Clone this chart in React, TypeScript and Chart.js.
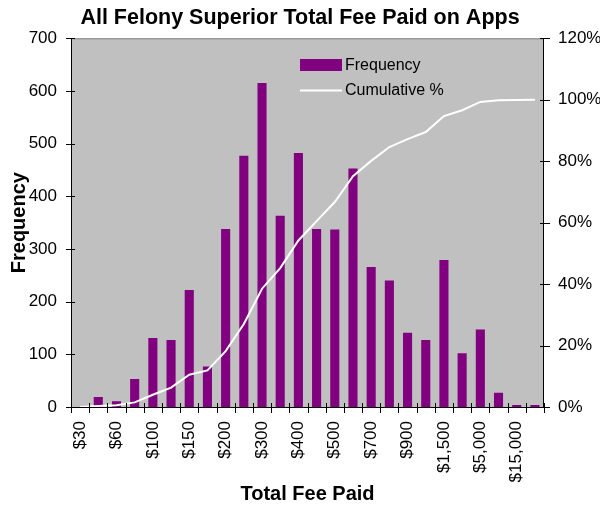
import React, { useEffect, useRef } from 'react';
import { Chart, registerables } from 'chart.js';

Chart.register(...registerables);

const categories = [
  '$30', '$50', '$60', '$75', '$100', '$125', '$150', '$175', '$200', '$250',
  '$300', '$350', '$400', '$450', '$500', '$600', '$700', '$800', '$900', '$1,000',
  '$1,500', '$2,500', '$5,000', '$10,000', '$15,000', 'More',
];

const frequency = [
  0, 19, 11, 53, 131, 127, 222, 77, 338, 477,
  615, 363, 482, 338, 337, 453, 266, 240, 141, 127,
  279, 102, 147, 27, 4, 4,
];

const cumulativePct = [
  0, 0.35, 0.56, 1.5, 4.0, 6.3, 10.5, 11.9, 18.2, 27.0,
  38.5, 45.2, 54.2, 60.5, 66.7, 75.1, 80.1, 84.6, 87.2, 89.5,
  94.7, 96.6, 99.3, 99.85, 99.9, 100,
];

const leftTickValues = [0, 100, 200, 300, 400, 500, 600, 700];
const rightTickValues = [0, 0.2, 0.4, 0.6, 0.8, 1.0, 1.2];

const titleText = 'All Felony Superior Total Fee Paid on Apps';
const xTitle = 'Total Fee Paid';
const yTitle = 'Frequency';
const legendLabels = ['Frequency', 'Cumulative %'];

const FONT = 'Arial, "Liberation Sans", sans-serif';
const PURPLE = '#800080';

const framePlugin = {
  id: 'excelFrame',
  beforeDatasetsDraw(chart: any) {
    const { ctx, chartArea } = chart;
    ctx.save();
    ctx.fillStyle = '#C0C0C0';
    ctx.fillRect(chartArea.left, chartArea.top, chartArea.right - chartArea.left, chartArea.bottom - chartArea.top);
    ctx.restore();
  },
  afterDatasetsDraw(chart: any) {
    const { ctx, chartArea } = chart;
    const { left, right, top, bottom } = chartArea;
    const y = chart.scales.y;
    const y1 = chart.scales.y1;
    ctx.save();
    ctx.strokeStyle = '#808080';
    ctx.lineWidth = 1;
    ctx.beginPath();
    ctx.moveTo(left, top + 0.5);
    ctx.lineTo(right, top + 0.5);
    ctx.stroke();
    ctx.strokeStyle = '#000';
    ctx.beginPath();
    ctx.moveTo(Math.round(left) + 0.5, top);
    ctx.lineTo(Math.round(left) + 0.5, bottom);
    ctx.moveTo(Math.round(right) - 0.5, top);
    ctx.lineTo(Math.round(right) - 0.5, bottom);
    ctx.moveTo(left - 5, Math.round(bottom) + 0.5);
    ctx.lineTo(right + 5, Math.round(bottom) + 0.5);
    leftTickValues.forEach((v) => {
      const py = Math.round(y.getPixelForValue(v)) + 0.5;
      ctx.moveTo(left - 5, py);
      ctx.lineTo(left + 4, py);
    });
    rightTickValues.forEach((v) => {
      const py = Math.round(y1.getPixelForValue(v)) + 0.5;
      ctx.moveTo(right - 4, py);
      ctx.lineTo(right + 6, py);
    });
    const n = categories.length;
    const step = (right - left) / n;
    for (let i = 0; i <= n; i++) {
      const px = Math.round(left + i * step) + 0.5;
      ctx.moveTo(px, bottom - 4);
      ctx.lineTo(px, bottom + 6);
    }
    ctx.stroke();

    ctx.fillStyle = PURPLE;
    ctx.fillRect(300, 59, 42, 12);
    ctx.strokeStyle = '#FFFFFF';
    ctx.lineWidth = 2;
    ctx.beginPath();
    ctx.moveTo(300, 90.5);
    ctx.lineTo(342, 90.5);
    ctx.stroke();
    ctx.fillStyle = '#000';
    ctx.font = `16px ${FONT}`;
    ctx.textBaseline = 'middle';
    ctx.textAlign = 'left';
    ctx.fillText(legendLabels[0], 345, 66);
    ctx.fillText(legendLabels[1], 345, 91);
    ctx.restore();
  },
};

export default function App() {
  const canvasRef = useRef<HTMLCanvasElement | null>(null);

  useEffect(() => {
    if (!canvasRef.current) return;
    Chart.defaults.color = '#000';
    const chart = new Chart(canvasRef.current, {
      type: 'bar',
      data: {
        labels: categories,
        datasets: [
          {
            type: 'line',
            label: legendLabels[1],
            data: cumulativePct.map((v) => v / 100),
            yAxisID: 'y1',
            borderColor: '#FFFFFF',
            borderWidth: 2,
            pointRadius: 0,
            tension: 0,
            fill: false,
            order: 0,
          } as any,
          {
            type: 'bar',
            label: legendLabels[0],
            data: frequency,
            yAxisID: 'y',
            backgroundColor: PURPLE,
            borderWidth: 0,
            barPercentage: 0.5,
            categoryPercentage: 1,
            order: 1,
          },
        ],
      },
      options: {
        animation: false,
        responsive: true,
        maintainAspectRatio: false,
        layout: { padding: 0 },
        plugins: {
          legend: { display: false },
          tooltip: { enabled: false },
          title: {
            display: true,
            text: titleText,
            color: '#000',
            font: { family: FONT, size: 21.5, weight: 'bold' },
            padding: { top: 5, bottom: 7.5 },
          },
        },
        scales: {
          x: {
            offset: true,
            grid: { display: false, drawTicks: false },
            border: { display: false },
            ticks: {
              autoSkip: false,
              minRotation: 90,
              maxRotation: 90,
              padding: 14,
              color: '#000',
              font: { family: FONT, size: 17 },
              callback: (_v: any, i: number) => (i % 2 === 0 ? categories[i] : ''),
            },
            title: {
              display: true,
              text: xTitle,
              color: '#000',
              font: { family: FONT, size: 20, weight: 'bold' },
              padding: { top: 0, bottom: 2 },
            },
            afterFit: (scale: any) => {
              scale.height = 101;
            },
          },
          y: {
            position: 'left',
            min: 0,
            max: 700,
            grid: { display: false, drawTicks: false },
            border: { display: false },
            ticks: {
              stepSize: 100,
              padding: 14,
              color: '#000',
              font: { family: FONT, size: 17 },
            },
            title: {
              display: true,
              text: yTitle,
              color: '#000',
              font: { family: FONT, size: 20, weight: 'bold' },
              padding: { top: 7, bottom: 0 },
            },
            afterFit: (scale: any) => {
              scale.width = 71;
            },
          },
          y1: {
            position: 'right',
            min: 0,
            max: 1.2,
            grid: { display: false, drawTicks: false },
            border: { display: false },
            ticks: {
              stepSize: 0.2,
              padding: 14,
              color: '#000',
              font: { family: FONT, size: 17 },
              callback: (v: any) => `${Math.round(Number(v) * 100)}%`,
            },
            afterFit: (scale: any) => {
              scale.width = 56;
            },
          },
        },
      },
      plugins: [framePlugin],
    });
    return () => chart.destroy();
  }, []);

  return (
    <div style={{ position: 'fixed', left: 0, top: 0, width: 600, height: 508, background: '#fff' }}>
      <canvas ref={canvasRef} />
    </div>
  );
}
